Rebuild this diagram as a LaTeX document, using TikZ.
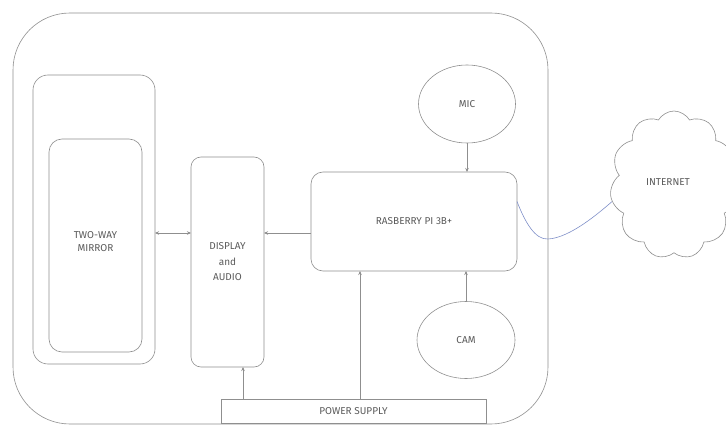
\documentclass[tikz,border=0pt]{standalone}
\usepackage{fontspec}
\setmainfont{Fira Sans}
\usepackage{xcolor}
\usetikzlibrary{arrows.meta,shapes.geometric,shapes.symbols}
\definecolor{linegray}{HTML}{8F8F8F}
\definecolor{textgray}{HTML}{5A5A5A}
\definecolor{wireblue}{HTML}{7F8FC8}
\tikzset{
  box/.style={draw=linegray, line width=0.6pt, rounded corners=#1, inner sep=0pt, outer sep=0pt, align=center},
  box/.default=10pt,
  oval/.style={draw=linegray, line width=0.6pt, ellipse, inner sep=0pt, outer sep=0pt},
  tip/.tip={Stealth[length=4pt,width=3.5pt]},
  link/.style={draw=linegray, line width=0.5pt, -tip},
  every node/.style={text=textgray, font=\fontsize{10}{13}\selectfont}
}
\begin{document}
\begin{tikzpicture}[x=1pt,y=-1pt]
  \useasboundingbox (0,0) rectangle (726,425);
  \node[box=57pt, minimum width=535pt, minimum height=411pt] (case) at (280.5,218.5) {};
  \node[box=15pt, minimum width=122pt, minimum height=289pt] (frame) at (94,219.5) {};
  \node[box=13pt, minimum width=93pt, minimum height=213pt] (mirror) at (95.5,245.5) {TWO-WAY\\MIRROR\\[-4pt]};
  \node[box=10pt, minimum width=73pt, minimum height=210pt, font=\fontsize{10}{15.5}\selectfont] (disp) at (227.5,262) {DISPLAY\\and\\AUDIO};
  \node[box=12pt, minimum width=206pt, minimum height=99pt] (pi) at (414,221.5) {RASBERRY PI 3B+};
  \node[oval, minimum width=97pt, minimum height=78pt] (mic) at (467,104) {MIC};
  \node[oval, minimum width=98pt, minimum height=77pt] (cam) at (466,340) {CAM};
  \node[box=0pt, minimum width=265pt, minimum height=24pt] (ps) at (353.5,411) {POWER SUPPLY};
  \node[draw=linegray, line width=0.6pt, cloud, cloud puffs=11, cloud puff arc=120, aspect=0.85, minimum width=128pt, minimum height=148pt, inner sep=0pt] (net) at (674,185) {};
  \node at (668,182) {INTERNET};

  \coordinate (psdisp) at (243,399);
  \coordinate (pspi) at (360,399);
  \draw[link] (mic.south) -- (mic.south |- pi.north);
  \draw[link] (cam.north) -- (cam.north |- pi.south);
  \draw[link] ([yshift=-11.5pt]pi.west) -- ([yshift=-11.5pt]pi.west -| disp.east);
  \draw[link, tip-tip] ([yshift=-13.5pt]frame.east) -- ([yshift=-13.5pt]frame.east -| disp.west);
  \draw[link] (psdisp) -- (psdisp |- disp.south);
  \draw[link] (pspi) -- (pspi |- pi.south);
  \draw[wireblue, line width=0.6pt] ([yshift=20pt]pi.east) .. controls (525,222) and (535,240) .. (548,239) .. controls (570,238) and (600,212) .. (net.195);
\end{tikzpicture}
\end{document}
